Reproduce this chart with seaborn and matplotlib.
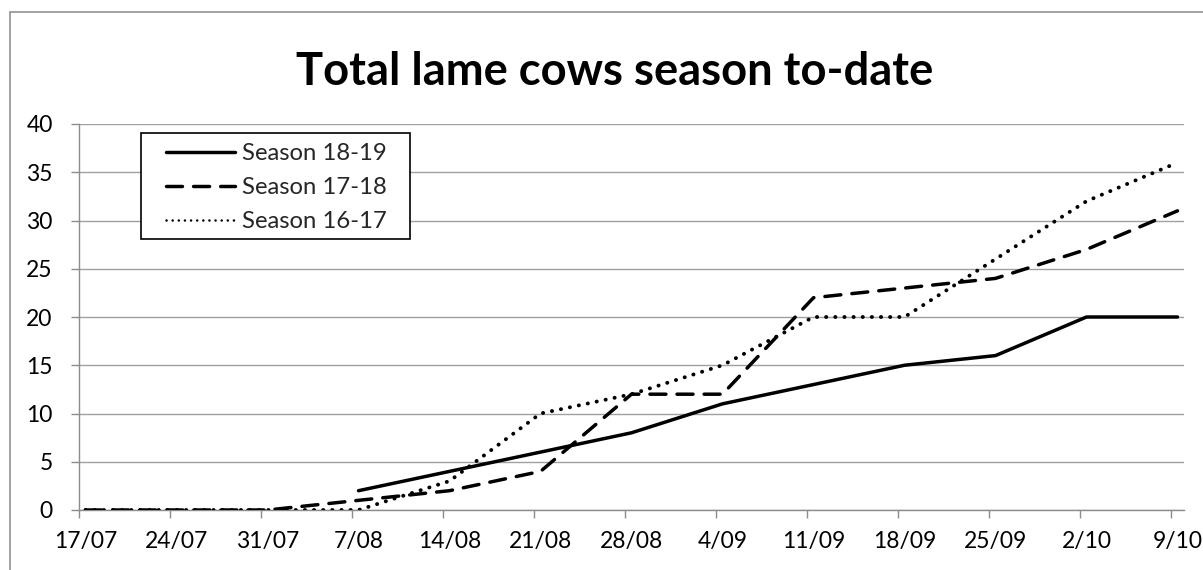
import numpy as np
import pandas as pd
import matplotlib
matplotlib.use("Agg")
import matplotlib.pyplot as plt
from matplotlib.patches import Rectangle
from matplotlib.lines import Line2D
import seaborn as sns

# ---- data ----
dates = ["17/07", "24/07", "31/07", "7/08", "14/08", "21/08", "28/08",
         "4/09", "11/09", "18/09", "25/09", "2/10", "9/10"]
season_18_19 = [np.nan, np.nan, np.nan, 2, 4, 6, 8, 11, 13, 15, 16, 20, 20]
season_17_18 = [0, 0, 0, 1, 2, 4, 12, 12, 22, 23, 24, 27, 31]
season_16_17 = [0, 0, 0, 0, 3, 10, 12, 15, 20, 20, 26, 32, 36]
series_names = ["Season 18-19", "Season 17-18", "Season 16-17"]
title = "Total lame cows season to-date"

sns.set_theme(style="white")
plt.rcParams["font.family"] = ["Lato", "DejaVu Sans"]
plt.rcParams["lines.dash_capstyle"] = "round"
plt.rcParams["lines.solid_joinstyle"] = "round"
plt.rcParams["lines.dash_joinstyle"] = "round"

day = np.arange(len(dates)) * 7  # days since 17/07
df = pd.DataFrame({
    "day": np.concatenate([day + 0.5] * 3),
    "value": np.concatenate([season_18_19, season_17_18, season_16_17]),
    "season": np.repeat(series_names, len(dates)),
})

W, H = 1203, 570
fig = plt.figure(figsize=(W / 100, H / 100), dpi=100)
ax = fig.add_axes([79 / W, 1 - 510 / H, (1184 - 79) / W, (510 - 124) / H])

dash_map = {"Season 18-19": "", "Season 17-18": (4.6, 3.2), "Season 16-17": (0.05, 2.3)}
sns.lineplot(data=df, x="day", y="value", hue="season", style="season",
             hue_order=series_names, style_order=series_names,
             palette={n: "black" for n in series_names}, dashes=dash_map,
             linewidth=2.5, legend=False, ax=ax, zorder=3)
lines = ax.get_lines()
if len(lines) >= 3:
    lines[2].set_linewidth(2.8)

ax.set_xlim(0, 85)
ax.set_ylim(0, 40)
ax.set_yticks(np.arange(0, 41, 5))
ax.set_xticks(day)
ax.set_xticklabels([])
ax.set_xticks(day + 0.5, minor=True)
ax.set_xticklabels(dates, minor=True)
ax.set_xlabel("")
ax.set_ylabel("")

grid_c = "#a0a0a0"
ax.yaxis.grid(True, color=grid_c, linewidth=1.0)
ax.xaxis.grid(False)
for s in ["top", "right"]:
    ax.spines[s].set_visible(False)
for s in ["left", "bottom"]:
    ax.spines[s].set_color("#8c8c8c")
    ax.spines[s].set_linewidth(1.0)

ax.tick_params(axis="x", which="major", bottom=True, length=6, width=1.0,
               color="#8c8c8c", direction="out")
ax.tick_params(axis="x", which="minor", bottom=True, length=0, pad=15,
               labelsize=16.5, labelcolor="black")
ax.tick_params(axis="y", which="major", left=True, length=6, width=1.0,
               color="#8c8c8c", direction="out", pad=13, labelsize=16.5,
               labelcolor="black")

# legend
handles = [
    Line2D([], [], color="black", lw=2.5, linestyle="-"),
    Line2D([], [], color="black", lw=2.5, linestyle=(0, (4.6, 3.2)), dash_capstyle="round"),
    Line2D([], [], color="black", lw=1.8, linestyle=(0, (0.05, 2.4)), dash_capstyle="round"),
]
box = Rectangle((62 / 1105, (510 - 239) / 386), (410 - 141) / 1105, (239 - 133) / 386,
                transform=ax.transAxes, facecolor="white", edgecolor="black",
                linewidth=1.2, zorder=4, clip_on=False)
ax.add_patch(box)
leg = ax.legend(handles, series_names, loc="upper left",
                bbox_to_anchor=((166 - 79) / 1105, (510 - 143) / 386),
                borderaxespad=0, borderpad=0, frameon=False,
                handlelength=2.9, handletextpad=0.3, labelspacing=0.55,
                fontsize=17.2)
leg.set_zorder(5)

# outer chart border (cropped at right/bottom)
fig.patches.append(Rectangle((10 / W, -0.2), 1.5, 1.2 - 12 / H,
                             transform=fig.transFigure, fill=False,
                             edgecolor="#9a9a9a", linewidth=1.3))

fig.text(615 / W, 1 - 85 / H, title, ha="center", va="baseline",
         fontsize=32.7, fontweight="bold", color="black")

fig.savefig("out.png", dpi=100)
